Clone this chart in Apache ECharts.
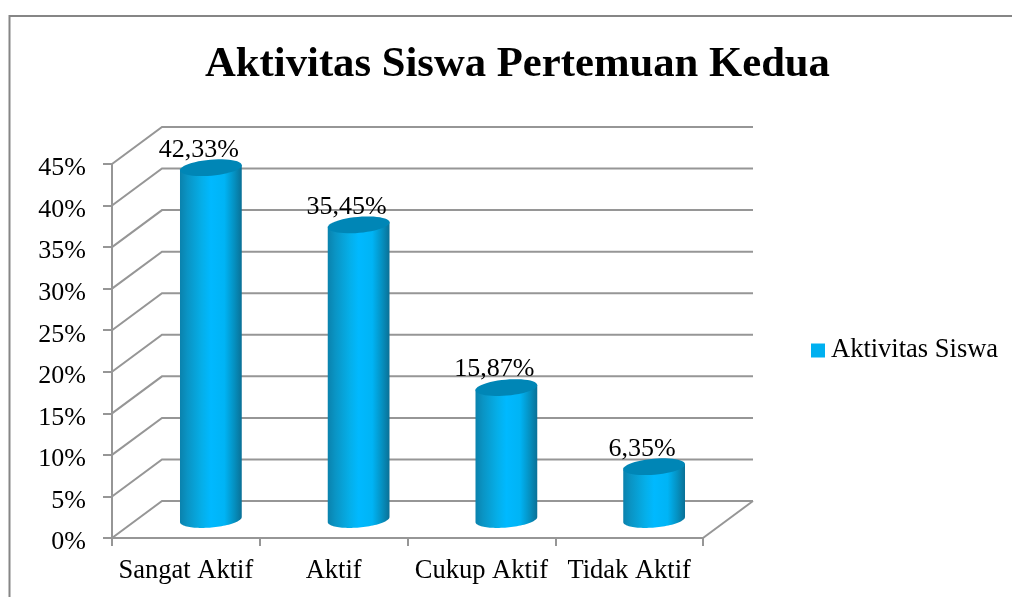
<!DOCTYPE html>
<html>
<head>
<meta charset="utf-8">
<style>
  html, body { margin: 0; padding: 0; background: #fff; }
  #chart { width: 1012px; height: 597px; }
</style>
<script src="https://cdn.jsdelivr.net/npm/echarts@6/dist/echarts.min.js"></script>
</head>
<body>
<div id="chart"></div>
<script>
var categories = ['Sangat Aktif', 'Aktif', 'Cukup Aktif', 'Tidak Aktif']
var values = [42.33, 35.45, 15.87, 6.35]
var valueLabels = ['42,33%', '35,45%', '15,87%', '6,35%']
var yTicks = [0, 5, 10, 15, 20, 25, 30, 35, 40, 45]
var seriesName = 'Aktivitas Siswa'
var chartTitle = 'Aktivitas Siswa Pertemuan Kedua'

var FONT = '"Liberation Serif", "Times New Roman", serif'
var GRAY = '#969696'
// depth of the fake 3d box, in px
var DEPTH_X = 50
var DEPTH_Y = 37

var chart = echarts.init(document.getElementById('chart'))

// walls and floor
function renderWall (params, api) {
  var v = api.value(0)
  var cs = params.coordSys
  var y = api.coord([0, v])[1]
  var left = cs.x
  var right = cs.x + cs.width
  var children = [{
    type: 'polyline',
    shape: { points: [[left, y], [left + DEPTH_X, y - DEPTH_Y], [right + DEPTH_X, y - DEPTH_Y]] },
    style: { fill: 'none', stroke: GRAY, lineWidth: 2 }
  }]
  if (v === 0) {
    children.push({
      type: 'line',
      shape: { x1: right + DEPTH_X, y1: y - DEPTH_Y, x2: right, y2: y },
      style: { stroke: GRAY, lineWidth: 2 }
    })
  }
  return { type: 'group', children: children }
}

// points along a tilted ellipse, from angle a0 to a1
function ellipsePts (cx, cy, rx, ry, a0, a1) {
  var tilt = -5 * Math.PI / 180
  var pts = []
  for (var i = 0; i <= 48; i++) {
    var a = a0 + (a1 - a0) * i / 48
    var ex = rx * Math.cos(a)
    var ey = ry * Math.sin(a)
    pts.push([cx + ex * Math.cos(tilt) - ey * Math.sin(tilt), cy + ex * Math.sin(tilt) + ey * Math.cos(tilt)])
  }
  return pts
}

function renderCylinder (params, api) {
  var idx = api.value(0)
  var top = api.coord([idx, api.value(1)])
  var base = api.coord([idx, 0])
  var cx = top[0] + DEPTH_X / 2
  var yTop = top[1] - DEPTH_Y / 2
  var yBase = base[1] - DEPTH_Y / 2
  var rx = 31
  var ry = 8
  // side of the cylinder: down the left, round the lower half of the base, back up
  var topLeft = ellipsePts(cx, yTop, rx, ry, Math.PI, Math.PI)[0]
  var topRight = ellipsePts(cx, yTop, rx, ry, 0, 0)[0]
  var body = [topLeft].concat(ellipsePts(cx, yBase, rx, ry, Math.PI, 0), [topRight])
  return {
    type: 'group',
    children: [{
      type: 'polygon',
      shape: { points: body },
      style: {
        fill: {
          type: 'linear', x: 0, y: 0, x2: 1, y2: 0,
          colorStops: [
            { offset: 0, color: '#0a82ad' },
            { offset: 0.12, color: '#0a94c4' },
            { offset: 0.35, color: '#05aee8' },
            { offset: 0.5, color: '#00b9ff' },
            { offset: 0.72, color: '#00b4f5' },
            { offset: 0.88, color: '#0590c0' },
            { offset: 1, color: '#0a7096' }
          ]
        }
      }
    }, {
      type: 'polygon',
      shape: { points: ellipsePts(cx, yTop, rx, ry, 0, Math.PI * 2) },
      style: { fill: '#0086b6' }
    }, {
      type: 'text',
      style: {
        x: cx - 12,
        y: yTop - 18,
        text: valueLabels[idx],
        font: '26px ' + FONT,
        fill: '#000',
        align: 'center',
        verticalAlign: 'middle'
      }
    }]
  }
}

chart.setOption({
  animation: false,
  backgroundColor: '#fff',
  graphic: [{
    type: 'polyline',
    silent: true,
    z: -1,
    shape: { points: [[9.5, 597], [9.5, 16], [1012, 16]] },
    style: { fill: 'none', stroke: '#868686', lineWidth: 2 }
  }],
  title: {
    text: chartTitle,
    left: 512.5,
    top: 38,
    textAlign: 'center',
    textStyle: { fontFamily: FONT, fontSize: 42.7, fontWeight: 'bold', color: '#000' }
  },
  legend: {
    data: [seriesName],
    left: 806,
    top: 332,
    icon: 'rect',
    itemWidth: 14,
    itemHeight: 14,
    itemGap: 0,
    textStyle: { fontFamily: FONT, fontSize: 26.5, color: '#000', padding: [0, 0, 0, 1] }
  },
  grid: { left: 112, top: 164, width: 591, height: 374 },
  xAxis: {
    type: 'category',
    data: categories,
    axisLine: { lineStyle: { color: GRAY, width: 2 } },
    axisTick: { show: true, length: 8, alignWithLabel: false, lineStyle: { color: GRAY, width: 2 } },
    axisLabel: { interval: 0, margin: 20, fontFamily: FONT, fontSize: 26.5, color: '#000' }
  },
  yAxis: {
    type: 'value',
    min: 0,
    max: 45,
    interval: 5,
    splitLine: { show: false },
    axisLine: { show: true, lineStyle: { color: GRAY, width: 2 } },
    axisTick: { show: true, length: 9, lineStyle: { color: GRAY, width: 2 } },
    axisLabel: { margin: 26, fontFamily: FONT, fontSize: 26, color: '#000', verticalAlign: 'top', lineHeight: 9, formatter: '{value}%' }
  },
  series: [{
    type: 'custom',
    name: 'walls',
    renderItem: renderWall,
    silent: true,
    z: 1,
    encode: { y: 0 },
    data: yTicks.map(function (t) { return [t] })
  }, {
    type: 'custom',
    name: seriesName,
    renderItem: renderCylinder,
    itemStyle: { color: '#00b0f0' },
    z: 3,
    encode: { x: 0, y: 1 },
    data: values.map(function (v, i) { return [i, v] })
  }]
})

window.addEventListener('resize', function () { chart.resize() })
</script>
</body>
</html>
